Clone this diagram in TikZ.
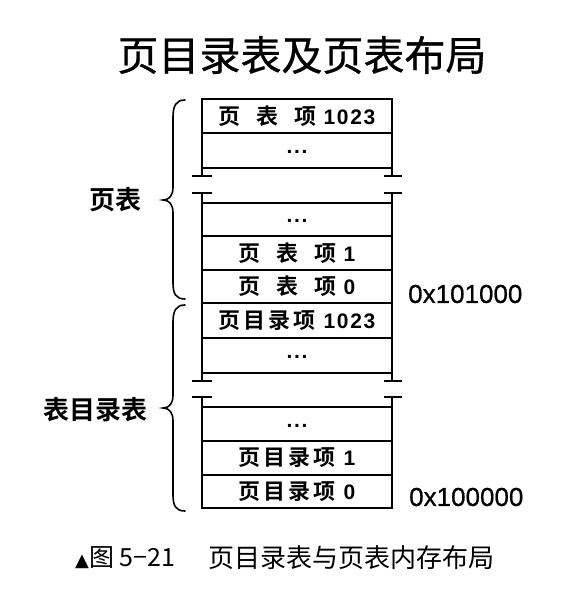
\documentclass[tikz,border=0pt]{standalone}
\usepackage{fontspec}
\setmainfont{Liberation Sans}
\newfontfamily\cjk{Noto Sans CJK SC}[BoldFont={* Bold}]
\newfontfamily\cjkm{Noto Sans CJK SC}[FakeBold=0.7]
\newfontfamily\addrfont{Liberation Sans}[FakeBold=0.6]
\newfontfamily\dig{Liberation Sans}[LetterSpace=8]
\newfontfamily\sym{DejaVu Sans}
\newcommand\dg[1]{{\fontsize{21}{21}\selectfont\dig\bfseries #1}}
\begin{document}
\begin{tikzpicture}[x=1pt,y=-1pt,
  frame/.style={line width=1.3pt, black},
  cell/.style={draw, line width=1.3pt, minimum width=190pt, minimum height=#1,
    inner sep=0pt, outer sep=0pt, font=\fontsize{22}{22}\selectfont\cjk\bfseries},
  bracestyle/.style={line width=1.6pt, line cap=round},
  side/.style={font=\fontsize{26}{26}\selectfont\cjk\bfseries, anchor=east, inner sep=0pt},
  addr/.style={font=\fontsize{26}{26}\selectfont\addrfont, anchor=west, inner sep=0pt}]
\useasboundingbox (0,0) rectangle (576,599);
% title
\node[font=\fontsize{41}{41}\selectfont\cjkm, inner sep=0pt] (title) at (302,55) {页目录表及页表布局};
% page table
\node[cell=34pt] (r1) at (297,116) {页\hspace{16pt}表\hspace{16pt}项\hspace{7pt}\dg{1023}};
\node[cell=35pt] (r2) at (297,150.5) {\raisebox{-6pt}{\dg{...}}};
\node[cell=33pt] (r3) at (297,219.5) {\raisebox{-6pt}{\dg{...}}};
\node[cell=34pt] (r4) at (297,253) {页\hspace{16pt}表\hspace{16pt}项\hspace{7pt}\dg{1}};
\node[cell=33pt] (r5) at (297,286.5) {页\hspace{16pt}表\hspace{16pt}项\hspace{7pt}\dg{0}};
% page directory
\node[cell=35pt] (r6) at (297,320.5) {页\hspace{3pt}目\hspace{3pt}录\hspace{3pt}项\hspace{8pt}\dg{1023}};
\node[cell=35pt] (r7) at (297,355.5) {\raisebox{-6pt}{\dg{...}}};
\node[cell=34pt] (r8) at (297,424) {\raisebox{-6pt}{\dg{...}}};
\node[cell=34pt] (r9) at (297,458) {页\hspace{3pt}目\hspace{3pt}录\hspace{3pt}项\hspace{8pt}\dg{1}};
\node[cell=33pt] (r10) at (297,491.5) {页\hspace{3pt}目\hspace{3pt}录\hspace{3pt}项\hspace{8pt}\dg{0}};
% break marks
\foreach \a/\b in {r2/r3, r7/r8}{
  \draw[frame] (\a.south west) -- ++(0,8) ++(-10,0) -- ++(20,0);
  \draw[frame] (\a.south east) -- ++(0,8) ++(-8,0) -- ++(18,0);
  \draw[frame] (\b.north west) -- ++(0,-10) ++(-10,0) -- ++(20,0);
  \draw[frame] (\b.north east) -- ++(0,-10) ++(-8,0) -- ++(18,0);
}
% braces
\coordinate (b1t) at (185,100);
\coordinate (b1m) at (163,200);
\coordinate (b1b) at (185,299);
\draw[bracestyle] (b1t) .. controls (176,100) and (173,106) .. (173,117) -- (173,187)
  .. controls (173,196) and (169,200) .. (b1m)
  .. controls (169,200) and (173,204) .. (173,213) -- (173,283)
  .. controls (173,294) and (176,299) .. (b1b);
\coordinate (b2t) at (185,305);
\coordinate (b2m) at (163,408);
\coordinate (b2b) at (185,511);
\draw[bracestyle] (b2t) .. controls (176,305) and (173,311) .. (173,322) -- (173,395)
  .. controls (173,404) and (169,408) .. (b2m)
  .. controls (169,408) and (173,412) .. (173,421) -- (173,495)
  .. controls (173,506) and (176,511) .. (b2b);
% side labels
\node[side] (l1) at (142,200) {页表};
\node[side] (l2) at (148,410) {表目录表};
% addresses
\node[addr] (a1) at (408,294) {0x101000};
\node[addr] (a2) at (409,497) {0x100000};
% caption
\node[anchor=west, inner sep=0pt, font=\fontsize{25}{25}\selectfont\cjk] (cap1) at (75,558) {{\sym\fontsize{18}{18}\selectfont ▲}图 5{\char"2212}21};
\node[anchor=west, inner sep=0pt, font=\fontsize{26}{26}\selectfont\cjk] (cap2) at (208,558) {页目录表与页表内存布局};
\end{tikzpicture}
\end{document}
